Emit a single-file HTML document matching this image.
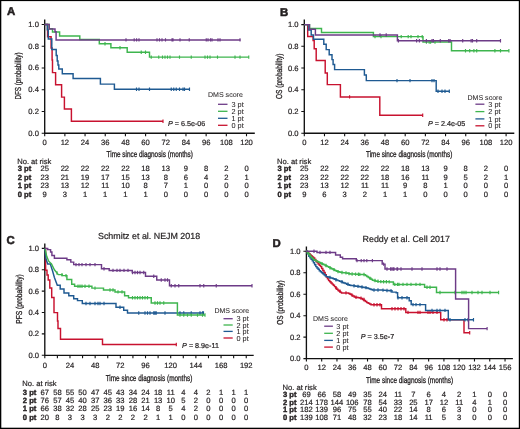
<!DOCTYPE html>
<html><head><meta charset="utf-8"><style>
html,body{margin:0;padding:0;background:#fff;}
body{width:520px;height:429px;overflow:hidden;}
svg{display:block;will-change:transform;}
text{-webkit-font-smoothing:antialiased;text-rendering:geometricPrecision;}
text{font-family:"Liberation Sans", sans-serif;fill:#231f20;stroke:#231f20;stroke-width:0.2px;}
text[font-weight=bold]{stroke-width:0.38px;}
text.cond{stroke-width:0.3px;}
text.tk{stroke-width:0.2px;}
text.lt{stroke-width:0.05px;}
text.let{stroke-width:0.55px;}
</style></head><body>
<svg width="520" height="429" viewBox="0 0 520 429">
<rect x="0" y="0" width="520" height="429" fill="#fff"/>
<text x="7.00" y="15.10" font-size="11.4" text-anchor="start" font-weight="bold" font-style="normal" class="let">A</text>
<path d="M44.70,19.50V133.20H254.80" fill="none" stroke="#111" stroke-width="1.35"/>
<text x="38.90" y="135.70" font-size="7.6" text-anchor="end" font-weight="normal" font-style="normal" class="tk">0.0</text>
<text x="38.90" y="113.96" font-size="7.6" text-anchor="end" font-weight="normal" font-style="normal" class="tk">0.2</text>
<text x="38.90" y="92.22" font-size="7.6" text-anchor="end" font-weight="normal" font-style="normal" class="tk">0.4</text>
<text x="38.90" y="70.48" font-size="7.6" text-anchor="end" font-weight="normal" font-style="normal" class="tk">0.6</text>
<text x="38.90" y="48.74" font-size="7.6" text-anchor="end" font-weight="normal" font-style="normal" class="tk">0.8</text>
<text x="38.90" y="27.00" font-size="7.6" text-anchor="end" font-weight="normal" font-style="normal" class="tk">1.0</text>
<text x="44.70" y="145.00" font-size="7.6" text-anchor="middle" font-weight="normal" font-style="normal" class="tk">0</text>
<text x="64.88" y="145.00" font-size="7.6" text-anchor="middle" font-weight="normal" font-style="normal" class="tk">12</text>
<text x="85.06" y="145.00" font-size="7.6" text-anchor="middle" font-weight="normal" font-style="normal" class="tk">24</text>
<text x="105.24" y="145.00" font-size="7.6" text-anchor="middle" font-weight="normal" font-style="normal" class="tk">36</text>
<text x="125.42" y="145.00" font-size="7.6" text-anchor="middle" font-weight="normal" font-style="normal" class="tk">48</text>
<text x="145.60" y="145.00" font-size="7.6" text-anchor="middle" font-weight="normal" font-style="normal" class="tk">60</text>
<text x="165.78" y="145.00" font-size="7.6" text-anchor="middle" font-weight="normal" font-style="normal" class="tk">72</text>
<text x="185.96" y="145.00" font-size="7.6" text-anchor="middle" font-weight="normal" font-style="normal" class="tk">84</text>
<text x="206.14" y="145.00" font-size="7.6" text-anchor="middle" font-weight="normal" font-style="normal" class="tk">96</text>
<text x="226.32" y="145.00" font-size="7.6" text-anchor="middle" font-weight="normal" font-style="normal" class="tk">108</text>
<text x="246.50" y="145.00" font-size="7.6" text-anchor="middle" font-weight="normal" font-style="normal" class="tk">120</text>
<path d="M41.70,133.20H44.70M41.70,111.46H44.70M41.70,89.72H44.70M41.70,67.98H44.70M41.70,46.24H44.70M41.70,24.50H44.70M44.70,133.20V136.20M64.88,133.20V136.20M85.06,133.20V136.20M105.24,133.20V136.20M125.42,133.20V136.20M145.60,133.20V136.20M165.78,133.20V136.20M185.96,133.20V136.20M206.14,133.20V136.20M226.32,133.20V136.20M246.50,133.20V136.20" fill="none" stroke="#111" stroke-width="1.1"/>
<text x="0" y="0" class="cond" font-size="8.6" text-anchor="middle" textLength="47" lengthAdjust="spacingAndGlyphs" transform="translate(21.30,76.00) rotate(-90)">DFS (probability)</text>
<text x="106.60" y="156.60" font-size="8.6" text-anchor="start" font-weight="normal" font-style="normal" textLength="86.3" lengthAdjust="spacingAndGlyphs" class="cond">Time since diagnosis (months)</text>
<path d="M44.70,24.50L47.60,24.50L47.60,36.80L51.10,36.80L51.10,48.00L52.10,48.00L52.10,60.00L52.50,60.00L52.50,72.60L55.60,72.60L55.60,84.80L61.60,84.80L61.60,97.10L64.40,97.10L64.40,109.00L71.40,109.00L71.40,121.20L163.00,121.20" fill="none" stroke="#c8122f" stroke-width="1.45" stroke-linejoin="miter" stroke-linecap="butt"/>
<path d="M163.00,119.50V122.90" fill="none" stroke="#c8122f" stroke-width="1.15"/>
<path d="M44.70,24.50L47.30,24.50L47.30,29.80L48.30,29.80L48.30,38.90L51.80,38.90L51.80,49.40L56.20,49.40L56.20,55.50L57.20,55.50L57.20,61.00L58.00,61.00L58.00,65.00L58.80,65.00L58.80,69.00L62.30,69.00L62.30,73.80L73.10,73.80L73.10,78.50L100.40,78.50L100.40,84.10L114.40,84.10L114.40,89.30L189.50,89.30" fill="none" stroke="#1f5a92" stroke-width="1.45" stroke-linejoin="miter" stroke-linecap="butt"/>
<path d="M136.50,87.60V91.00M139.00,87.60V91.00M149.50,87.60V91.00M171.25,87.60V91.00M173.75,87.60V91.00M176.25,87.60V91.00M179.50,87.60V91.00M183.00,87.60V91.00M184.50,87.60V91.00M189.50,87.60V91.00" fill="none" stroke="#1f5a92" stroke-width="1.15"/>
<path d="M44.70,24.50L49.20,24.50L49.20,28.80L52.50,28.80L52.50,32.10L59.60,32.10L59.60,35.90L79.80,35.90L79.80,39.50L99.30,39.50L99.30,43.80L110.90,43.80L110.90,47.80L127.20,47.80L127.20,52.20L149.50,52.20L149.50,57.10L248.75,57.10" fill="none" stroke="#3eb54e" stroke-width="1.45" stroke-linejoin="miter" stroke-linecap="butt"/>
<path d="M105.00,42.10V45.50M120.00,46.10V49.50M141.25,50.50V53.90M145.50,50.50V53.90M151.25,55.40V58.80M158.75,55.40V58.80M162.50,55.40V58.80M165.00,55.40V58.80M167.50,55.40V58.80M170.00,55.40V58.80M179.50,55.40V58.80M191.25,55.40V58.80M205.00,55.40V58.80M207.50,55.40V58.80M210.00,55.40V58.80M217.50,55.40V58.80M235.00,55.40V58.80M240.00,55.40V58.80M248.75,55.40V58.80" fill="none" stroke="#3eb54e" stroke-width="1.15"/>
<path d="M44.70,24.50L49.20,24.50L49.20,29.00L55.00,29.00L55.00,31.80L56.10,31.80L56.10,39.90L240.50,39.90" fill="none" stroke="#6d3b87" stroke-width="1.45" stroke-linejoin="miter" stroke-linecap="butt"/>
<path d="M126.00,38.20V41.60M134.20,38.20V41.60M136.60,38.20V41.60M139.00,38.20V41.60M157.00,38.20V41.60M159.50,38.20V41.60M162.00,38.20V41.60M165.50,38.20V41.60M172.00,38.20V41.60M173.00,38.20V41.60M180.00,38.20V41.60M189.25,38.20V41.60M206.25,38.20V41.60M208.00,38.20V41.60M210.50,38.20V41.60M212.00,38.20V41.60M218.00,38.20V41.60M220.00,38.20V41.60M240.00,38.20V41.60" fill="none" stroke="#6d3b87" stroke-width="1.15"/>
<text x="208.00" y="97.10" font-size="7.05" text-anchor="start" font-weight="normal" font-style="normal" class="lt">DMS score</text>
<path d="M218.00,104.30H227.50" stroke="#6d3b87" stroke-width="1.3"/>
<text x="231.50" y="106.90" font-size="7.3" text-anchor="start" font-weight="normal" font-style="normal" class="lt">3 pt</text>
<path d="M218.00,111.30H227.50" stroke="#3eb54e" stroke-width="1.3"/>
<text x="231.50" y="113.90" font-size="7.3" text-anchor="start" font-weight="normal" font-style="normal" class="lt">2 pt</text>
<path d="M218.00,118.30H227.50" stroke="#1f5a92" stroke-width="1.3"/>
<text x="231.50" y="120.90" font-size="7.3" text-anchor="start" font-weight="normal" font-style="normal" class="lt">1 pt</text>
<path d="M218.00,125.30H227.50" stroke="#c8122f" stroke-width="1.3"/>
<text x="231.50" y="127.90" font-size="7.3" text-anchor="start" font-weight="normal" font-style="normal" class="lt">0 pt</text>
<text x="168.00" y="126.00" font-size="7.2"><tspan font-style="italic">P</tspan> = 6.5e-06</text>
<text x="17.20" y="163.70" font-size="7.6" text-anchor="start" font-weight="normal" font-style="normal" >No. at risk</text>
<text x="17.70" y="171.00" font-size="7.6" text-anchor="start" font-weight="bold" font-style="normal" >3 pt</text>
<text x="44.70" y="171.00" font-size="7.6" text-anchor="middle" font-weight="normal" font-style="normal" >25</text>
<text x="64.88" y="171.00" font-size="7.6" text-anchor="middle" font-weight="normal" font-style="normal" >22</text>
<text x="85.06" y="171.00" font-size="7.6" text-anchor="middle" font-weight="normal" font-style="normal" >22</text>
<text x="105.24" y="171.00" font-size="7.6" text-anchor="middle" font-weight="normal" font-style="normal" >22</text>
<text x="125.42" y="171.00" font-size="7.6" text-anchor="middle" font-weight="normal" font-style="normal" >22</text>
<text x="145.60" y="171.00" font-size="7.6" text-anchor="middle" font-weight="normal" font-style="normal" >18</text>
<text x="165.78" y="171.00" font-size="7.6" text-anchor="middle" font-weight="normal" font-style="normal" >13</text>
<text x="185.96" y="171.00" font-size="7.6" text-anchor="middle" font-weight="normal" font-style="normal" >9</text>
<text x="206.14" y="171.00" font-size="7.6" text-anchor="middle" font-weight="normal" font-style="normal" >8</text>
<text x="226.32" y="171.00" font-size="7.6" text-anchor="middle" font-weight="normal" font-style="normal" >2</text>
<text x="246.50" y="171.00" font-size="7.6" text-anchor="middle" font-weight="normal" font-style="normal" >0</text>
<text x="17.70" y="179.80" font-size="7.6" text-anchor="start" font-weight="bold" font-style="normal" >2 pt</text>
<text x="44.70" y="179.80" font-size="7.6" text-anchor="middle" font-weight="normal" font-style="normal" >23</text>
<text x="64.88" y="179.80" font-size="7.6" text-anchor="middle" font-weight="normal" font-style="normal" >21</text>
<text x="85.06" y="179.80" font-size="7.6" text-anchor="middle" font-weight="normal" font-style="normal" >19</text>
<text x="105.24" y="179.80" font-size="7.6" text-anchor="middle" font-weight="normal" font-style="normal" >17</text>
<text x="125.42" y="179.80" font-size="7.6" text-anchor="middle" font-weight="normal" font-style="normal" >15</text>
<text x="145.60" y="179.80" font-size="7.6" text-anchor="middle" font-weight="normal" font-style="normal" >13</text>
<text x="165.78" y="179.80" font-size="7.6" text-anchor="middle" font-weight="normal" font-style="normal" >8</text>
<text x="185.96" y="179.80" font-size="7.6" text-anchor="middle" font-weight="normal" font-style="normal" >6</text>
<text x="206.14" y="179.80" font-size="7.6" text-anchor="middle" font-weight="normal" font-style="normal" >4</text>
<text x="226.32" y="179.80" font-size="7.6" text-anchor="middle" font-weight="normal" font-style="normal" >2</text>
<text x="246.50" y="179.80" font-size="7.6" text-anchor="middle" font-weight="normal" font-style="normal" >1</text>
<text x="17.70" y="188.40" font-size="7.6" text-anchor="start" font-weight="bold" font-style="normal" >1 pt</text>
<text x="44.70" y="188.40" font-size="7.6" text-anchor="middle" font-weight="normal" font-style="normal" >23</text>
<text x="64.88" y="188.40" font-size="7.6" text-anchor="middle" font-weight="normal" font-style="normal" >13</text>
<text x="85.06" y="188.40" font-size="7.6" text-anchor="middle" font-weight="normal" font-style="normal" >12</text>
<text x="105.24" y="188.40" font-size="7.6" text-anchor="middle" font-weight="normal" font-style="normal" >11</text>
<text x="125.42" y="188.40" font-size="7.6" text-anchor="middle" font-weight="normal" font-style="normal" >10</text>
<text x="145.60" y="188.40" font-size="7.6" text-anchor="middle" font-weight="normal" font-style="normal" >8</text>
<text x="165.78" y="188.40" font-size="7.6" text-anchor="middle" font-weight="normal" font-style="normal" >7</text>
<text x="185.96" y="188.40" font-size="7.6" text-anchor="middle" font-weight="normal" font-style="normal" >1</text>
<text x="206.14" y="188.40" font-size="7.6" text-anchor="middle" font-weight="normal" font-style="normal" >0</text>
<text x="226.32" y="188.40" font-size="7.6" text-anchor="middle" font-weight="normal" font-style="normal" >0</text>
<text x="246.50" y="188.40" font-size="7.6" text-anchor="middle" font-weight="normal" font-style="normal" >0</text>
<text x="17.70" y="197.20" font-size="7.6" text-anchor="start" font-weight="bold" font-style="normal" >0 pt</text>
<text x="44.70" y="197.20" font-size="7.6" text-anchor="middle" font-weight="normal" font-style="normal" >9</text>
<text x="64.88" y="197.20" font-size="7.6" text-anchor="middle" font-weight="normal" font-style="normal" >3</text>
<text x="85.06" y="197.20" font-size="7.6" text-anchor="middle" font-weight="normal" font-style="normal" >1</text>
<text x="105.24" y="197.20" font-size="7.6" text-anchor="middle" font-weight="normal" font-style="normal" >1</text>
<text x="125.42" y="197.20" font-size="7.6" text-anchor="middle" font-weight="normal" font-style="normal" >1</text>
<text x="145.60" y="197.20" font-size="7.6" text-anchor="middle" font-weight="normal" font-style="normal" >1</text>
<text x="165.78" y="197.20" font-size="7.6" text-anchor="middle" font-weight="normal" font-style="normal" >0</text>
<text x="185.96" y="197.20" font-size="7.6" text-anchor="middle" font-weight="normal" font-style="normal" >0</text>
<text x="206.14" y="197.20" font-size="7.6" text-anchor="middle" font-weight="normal" font-style="normal" >0</text>
<text x="226.32" y="197.20" font-size="7.6" text-anchor="middle" font-weight="normal" font-style="normal" >0</text>
<text x="246.50" y="197.20" font-size="7.6" text-anchor="middle" font-weight="normal" font-style="normal" >0</text>
<text x="280.10" y="15.60" font-size="11.4" text-anchor="start" font-weight="bold" font-style="normal" class="let">B</text>
<path d="M304.30,19.50V133.20H514.30" fill="none" stroke="#111" stroke-width="1.35"/>
<text x="298.50" y="135.70" font-size="7.6" text-anchor="end" font-weight="normal" font-style="normal" class="tk">0.0</text>
<text x="298.50" y="113.98" font-size="7.6" text-anchor="end" font-weight="normal" font-style="normal" class="tk">0.2</text>
<text x="298.50" y="92.26" font-size="7.6" text-anchor="end" font-weight="normal" font-style="normal" class="tk">0.4</text>
<text x="298.50" y="70.54" font-size="7.6" text-anchor="end" font-weight="normal" font-style="normal" class="tk">0.6</text>
<text x="298.50" y="48.82" font-size="7.6" text-anchor="end" font-weight="normal" font-style="normal" class="tk">0.8</text>
<text x="298.50" y="27.10" font-size="7.6" text-anchor="end" font-weight="normal" font-style="normal" class="tk">1.0</text>
<text x="304.30" y="145.00" font-size="7.6" text-anchor="middle" font-weight="normal" font-style="normal" class="tk">0</text>
<text x="324.48" y="145.00" font-size="7.6" text-anchor="middle" font-weight="normal" font-style="normal" class="tk">12</text>
<text x="344.66" y="145.00" font-size="7.6" text-anchor="middle" font-weight="normal" font-style="normal" class="tk">24</text>
<text x="364.84" y="145.00" font-size="7.6" text-anchor="middle" font-weight="normal" font-style="normal" class="tk">36</text>
<text x="385.02" y="145.00" font-size="7.6" text-anchor="middle" font-weight="normal" font-style="normal" class="tk">48</text>
<text x="405.20" y="145.00" font-size="7.6" text-anchor="middle" font-weight="normal" font-style="normal" class="tk">60</text>
<text x="425.38" y="145.00" font-size="7.6" text-anchor="middle" font-weight="normal" font-style="normal" class="tk">72</text>
<text x="445.56" y="145.00" font-size="7.6" text-anchor="middle" font-weight="normal" font-style="normal" class="tk">84</text>
<text x="465.74" y="145.00" font-size="7.6" text-anchor="middle" font-weight="normal" font-style="normal" class="tk">96</text>
<text x="485.92" y="145.00" font-size="7.6" text-anchor="middle" font-weight="normal" font-style="normal" class="tk">108</text>
<text x="506.10" y="145.00" font-size="7.6" text-anchor="middle" font-weight="normal" font-style="normal" class="tk">120</text>
<path d="M301.30,133.20H304.30M301.30,111.48H304.30M301.30,89.76H304.30M301.30,68.04H304.30M301.30,46.32H304.30M301.30,24.60H304.30M304.30,133.20V136.20M324.48,133.20V136.20M344.66,133.20V136.20M364.84,133.20V136.20M385.02,133.20V136.20M405.20,133.20V136.20M425.38,133.20V136.20M445.56,133.20V136.20M465.74,133.20V136.20M485.92,133.20V136.20M506.10,133.20V136.20" fill="none" stroke="#111" stroke-width="1.1"/>
<text x="0" y="0" class="cond" font-size="8.6" text-anchor="middle" textLength="45.5" lengthAdjust="spacingAndGlyphs" transform="translate(281.50,76.30) rotate(-90)">OS (probability)</text>
<text x="366.00" y="156.90" font-size="8.6" text-anchor="start" font-weight="normal" font-style="normal" textLength="86.3" lengthAdjust="spacingAndGlyphs" class="cond">Time since diagnosis (months)</text>
<path d="M304.30,24.60L307.70,24.60L307.70,36.50L313.10,36.50L313.10,40.40L314.20,40.40L314.20,48.80L316.20,48.80L316.20,60.40L325.20,60.40L325.20,72.90L327.30,72.90L327.30,84.60L340.40,84.60L340.40,96.90L379.80,96.90L379.80,115.20L422.70,115.20" fill="none" stroke="#c8122f" stroke-width="1.45" stroke-linejoin="miter" stroke-linecap="butt"/>
<path d="M349.60,95.20V98.60M422.70,113.50V116.90" fill="none" stroke="#c8122f" stroke-width="1.15"/>
<path d="M304.30,24.60L308.50,24.60L308.50,29.90L311.20,29.90L311.20,35.00L313.50,35.00L313.50,39.30L323.80,39.30L323.80,44.20L326.20,44.20L326.20,49.60L329.20,49.60L329.20,54.70L332.00,54.70L332.00,59.60L333.10,59.60L333.10,64.50L334.60,64.50L334.60,69.60L364.40,69.60L364.40,75.00L366.30,75.00L366.30,80.60L436.20,80.60L436.20,91.30L449.30,91.30" fill="none" stroke="#1f5a92" stroke-width="1.45" stroke-linejoin="miter" stroke-linecap="butt"/>
<path d="M397.00,78.90V82.30M410.00,78.90V82.30M432.00,78.90V82.30M434.00,78.90V82.30M438.00,89.60V93.00M442.00,89.60V93.00M445.00,89.60V93.00M449.30,89.60V93.00" fill="none" stroke="#1f5a92" stroke-width="1.15"/>
<path d="M304.30,24.60L309.50,24.60L309.50,28.50L321.50,28.50L321.50,32.40L373.40,32.40L373.40,36.60L423.00,36.60L423.00,42.00L451.50,42.00L451.50,50.80L508.90,50.80" fill="none" stroke="#3eb54e" stroke-width="1.45" stroke-linejoin="miter" stroke-linecap="butt"/>
<path d="M375.00,34.90V38.30M381.00,34.90V38.30M401.20,34.90V38.30M408.20,34.90V38.30M411.00,34.90V38.30M418.00,34.90V38.30M422.20,34.90V38.30M426.40,40.30V43.70M429.20,40.30V43.70M430.60,40.30V43.70M435.00,40.30V43.70M465.50,49.10V52.50M469.70,49.10V52.50M473.90,49.10V52.50M476.70,49.10V52.50M494.90,49.10V52.50M500.50,49.10V52.50M508.90,49.10V52.50" fill="none" stroke="#3eb54e" stroke-width="1.15"/>
<path d="M304.30,24.60L309.50,24.60L309.50,29.20L315.40,29.20L315.40,35.00L397.40,35.00L397.40,40.70L500.50,40.70" fill="none" stroke="#6d3b87" stroke-width="1.45" stroke-linejoin="miter" stroke-linecap="butt"/>
<path d="M380.00,33.30V36.70M386.20,33.30V36.70M398.40,39.00V42.40M416.60,39.00V42.40M419.40,39.00V42.40M426.40,39.00V42.40M432.00,39.00V42.40M433.40,39.00V42.40M440.30,39.00V42.40M448.70,39.00V42.40M450.10,39.00V42.40M462.70,39.00V42.40M471.10,39.00V42.40M472.50,39.00V42.40M476.70,39.00V42.40M500.50,39.00V42.40" fill="none" stroke="#6d3b87" stroke-width="1.15"/>
<text x="467.50" y="100.00" font-size="7.05" text-anchor="start" font-weight="normal" font-style="normal" class="lt">DMS score</text>
<path d="M475.40,104.20H484.40" stroke="#6d3b87" stroke-width="1.3"/>
<text x="488.30" y="106.80" font-size="7.3" text-anchor="start" font-weight="normal" font-style="normal" class="lt">3 pt</text>
<path d="M475.40,111.60H484.40" stroke="#3eb54e" stroke-width="1.3"/>
<text x="488.30" y="114.20" font-size="7.3" text-anchor="start" font-weight="normal" font-style="normal" class="lt">2 pt</text>
<path d="M475.40,118.90H484.40" stroke="#1f5a92" stroke-width="1.3"/>
<text x="488.30" y="121.50" font-size="7.3" text-anchor="start" font-weight="normal" font-style="normal" class="lt">1 pt</text>
<path d="M475.40,125.80H484.40" stroke="#c8122f" stroke-width="1.3"/>
<text x="488.30" y="128.40" font-size="7.3" text-anchor="start" font-weight="normal" font-style="normal" class="lt">0 pt</text>
<text x="428.00" y="126.00" font-size="7.2"><tspan font-style="italic">P</tspan> = 2.4e-05</text>
<text x="277.00" y="163.70" font-size="7.6" text-anchor="start" font-weight="normal" font-style="normal" >No. at risk</text>
<text x="277.50" y="171.00" font-size="7.6" text-anchor="start" font-weight="bold" font-style="normal" >3 pt</text>
<text x="304.30" y="171.00" font-size="7.6" text-anchor="middle" font-weight="normal" font-style="normal" >25</text>
<text x="324.48" y="171.00" font-size="7.6" text-anchor="middle" font-weight="normal" font-style="normal" >22</text>
<text x="344.66" y="171.00" font-size="7.6" text-anchor="middle" font-weight="normal" font-style="normal" >22</text>
<text x="364.84" y="171.00" font-size="7.6" text-anchor="middle" font-weight="normal" font-style="normal" >22</text>
<text x="385.02" y="171.00" font-size="7.6" text-anchor="middle" font-weight="normal" font-style="normal" >22</text>
<text x="405.20" y="171.00" font-size="7.6" text-anchor="middle" font-weight="normal" font-style="normal" >18</text>
<text x="425.38" y="171.00" font-size="7.6" text-anchor="middle" font-weight="normal" font-style="normal" >13</text>
<text x="445.56" y="171.00" font-size="7.6" text-anchor="middle" font-weight="normal" font-style="normal" >9</text>
<text x="465.74" y="171.00" font-size="7.6" text-anchor="middle" font-weight="normal" font-style="normal" >8</text>
<text x="485.92" y="171.00" font-size="7.6" text-anchor="middle" font-weight="normal" font-style="normal" >2</text>
<text x="506.10" y="171.00" font-size="7.6" text-anchor="middle" font-weight="normal" font-style="normal" >0</text>
<text x="277.50" y="179.80" font-size="7.6" text-anchor="start" font-weight="bold" font-style="normal" >2 pt</text>
<text x="304.30" y="179.80" font-size="7.6" text-anchor="middle" font-weight="normal" font-style="normal" >23</text>
<text x="324.48" y="179.80" font-size="7.6" text-anchor="middle" font-weight="normal" font-style="normal" >22</text>
<text x="344.66" y="179.80" font-size="7.6" text-anchor="middle" font-weight="normal" font-style="normal" >22</text>
<text x="364.84" y="179.80" font-size="7.6" text-anchor="middle" font-weight="normal" font-style="normal" >22</text>
<text x="385.02" y="179.80" font-size="7.6" text-anchor="middle" font-weight="normal" font-style="normal" >18</text>
<text x="405.20" y="179.80" font-size="7.6" text-anchor="middle" font-weight="normal" font-style="normal" >16</text>
<text x="425.38" y="179.80" font-size="7.6" text-anchor="middle" font-weight="normal" font-style="normal" >11</text>
<text x="445.56" y="179.80" font-size="7.6" text-anchor="middle" font-weight="normal" font-style="normal" >9</text>
<text x="465.74" y="179.80" font-size="7.6" text-anchor="middle" font-weight="normal" font-style="normal" >5</text>
<text x="485.92" y="179.80" font-size="7.6" text-anchor="middle" font-weight="normal" font-style="normal" >2</text>
<text x="506.10" y="179.80" font-size="7.6" text-anchor="middle" font-weight="normal" font-style="normal" >1</text>
<text x="277.50" y="188.40" font-size="7.6" text-anchor="start" font-weight="bold" font-style="normal" >1 pt</text>
<text x="304.30" y="188.40" font-size="7.6" text-anchor="middle" font-weight="normal" font-style="normal" >23</text>
<text x="324.48" y="188.40" font-size="7.6" text-anchor="middle" font-weight="normal" font-style="normal" >13</text>
<text x="344.66" y="188.40" font-size="7.6" text-anchor="middle" font-weight="normal" font-style="normal" >12</text>
<text x="364.84" y="188.40" font-size="7.6" text-anchor="middle" font-weight="normal" font-style="normal" >11</text>
<text x="385.02" y="188.40" font-size="7.6" text-anchor="middle" font-weight="normal" font-style="normal" >11</text>
<text x="405.20" y="188.40" font-size="7.6" text-anchor="middle" font-weight="normal" font-style="normal" >9</text>
<text x="425.38" y="188.40" font-size="7.6" text-anchor="middle" font-weight="normal" font-style="normal" >8</text>
<text x="445.56" y="188.40" font-size="7.6" text-anchor="middle" font-weight="normal" font-style="normal" >1</text>
<text x="465.74" y="188.40" font-size="7.6" text-anchor="middle" font-weight="normal" font-style="normal" >0</text>
<text x="485.92" y="188.40" font-size="7.6" text-anchor="middle" font-weight="normal" font-style="normal" >0</text>
<text x="506.10" y="188.40" font-size="7.6" text-anchor="middle" font-weight="normal" font-style="normal" >0</text>
<text x="277.50" y="197.20" font-size="7.6" text-anchor="start" font-weight="bold" font-style="normal" >0 pt</text>
<text x="304.30" y="197.20" font-size="7.6" text-anchor="middle" font-weight="normal" font-style="normal" >9</text>
<text x="324.48" y="197.20" font-size="7.6" text-anchor="middle" font-weight="normal" font-style="normal" >6</text>
<text x="344.66" y="197.20" font-size="7.6" text-anchor="middle" font-weight="normal" font-style="normal" >3</text>
<text x="364.84" y="197.20" font-size="7.6" text-anchor="middle" font-weight="normal" font-style="normal" >2</text>
<text x="385.02" y="197.20" font-size="7.6" text-anchor="middle" font-weight="normal" font-style="normal" >1</text>
<text x="405.20" y="197.20" font-size="7.6" text-anchor="middle" font-weight="normal" font-style="normal" >1</text>
<text x="425.38" y="197.20" font-size="7.6" text-anchor="middle" font-weight="normal" font-style="normal" >0</text>
<text x="445.56" y="197.20" font-size="7.6" text-anchor="middle" font-weight="normal" font-style="normal" >0</text>
<text x="465.74" y="197.20" font-size="7.6" text-anchor="middle" font-weight="normal" font-style="normal" >0</text>
<text x="485.92" y="197.20" font-size="7.6" text-anchor="middle" font-weight="normal" font-style="normal" >0</text>
<text x="506.10" y="197.20" font-size="7.6" text-anchor="middle" font-weight="normal" font-style="normal" >0</text>
<text x="6.60" y="243.90" font-size="11.4" text-anchor="start" font-weight="bold" font-style="normal" class="let">C</text>
<path d="M44.80,243.50V355.30H253.70" fill="none" stroke="#111" stroke-width="1.35"/>
<text x="39.00" y="357.80" font-size="7.6" text-anchor="end" font-weight="normal" font-style="normal" class="tk">0.0</text>
<text x="39.00" y="336.42" font-size="7.6" text-anchor="end" font-weight="normal" font-style="normal" class="tk">0.2</text>
<text x="39.00" y="315.04" font-size="7.6" text-anchor="end" font-weight="normal" font-style="normal" class="tk">0.4</text>
<text x="39.00" y="293.66" font-size="7.6" text-anchor="end" font-weight="normal" font-style="normal" class="tk">0.6</text>
<text x="39.00" y="272.28" font-size="7.6" text-anchor="end" font-weight="normal" font-style="normal" class="tk">0.8</text>
<text x="39.00" y="250.90" font-size="7.6" text-anchor="end" font-weight="normal" font-style="normal" class="tk">1.0</text>
<text x="44.80" y="367.90" font-size="7.6" text-anchor="middle" font-weight="normal" font-style="normal" class="tk">0</text>
<text x="69.98" y="367.90" font-size="7.6" text-anchor="middle" font-weight="normal" font-style="normal" class="tk">24</text>
<text x="95.16" y="367.90" font-size="7.6" text-anchor="middle" font-weight="normal" font-style="normal" class="tk">48</text>
<text x="120.34" y="367.90" font-size="7.6" text-anchor="middle" font-weight="normal" font-style="normal" class="tk">72</text>
<text x="145.52" y="367.90" font-size="7.6" text-anchor="middle" font-weight="normal" font-style="normal" class="tk">96</text>
<text x="170.70" y="367.90" font-size="7.6" text-anchor="middle" font-weight="normal" font-style="normal" class="tk">120</text>
<text x="195.88" y="367.90" font-size="7.6" text-anchor="middle" font-weight="normal" font-style="normal" class="tk">144</text>
<text x="221.06" y="367.90" font-size="7.6" text-anchor="middle" font-weight="normal" font-style="normal" class="tk">168</text>
<text x="246.24" y="367.90" font-size="7.6" text-anchor="middle" font-weight="normal" font-style="normal" class="tk">192</text>
<path d="M41.80,355.30H44.80M41.80,333.92H44.80M41.80,312.54H44.80M41.80,291.16H44.80M41.80,269.78H44.80M41.80,248.40H44.80M44.80,355.30V358.30M57.39,355.30V358.30M69.98,355.30V358.30M82.57,355.30V358.30M95.16,355.30V358.30M107.75,355.30V358.30M120.34,355.30V358.30M132.93,355.30V358.30M145.52,355.30V358.30M158.11,355.30V358.30M170.70,355.30V358.30M183.29,355.30V358.30M195.88,355.30V358.30M208.47,355.30V358.30M221.06,355.30V358.30M233.65,355.30V358.30M246.24,355.30V358.30" fill="none" stroke="#111" stroke-width="1.1"/>
<text x="0" y="0" class="cond" font-size="8.6" text-anchor="middle" textLength="49.5" lengthAdjust="spacingAndGlyphs" transform="translate(21.50,299.00) rotate(-90)">PFS (probability)</text>
<text x="105.70" y="380.60" font-size="8.6" text-anchor="start" font-weight="normal" font-style="normal" textLength="86.6" lengthAdjust="spacingAndGlyphs" class="cond">Time since diagnosis (months)</text>
<path d="M45.00,248.40L45.60,248.40L45.60,270.20L47.00,270.20L47.00,275.00L48.20,275.00L48.20,280.00L49.80,280.00L49.80,288.00L51.70,288.00L51.70,297.40L54.00,297.40L54.00,312.60L57.50,312.60L57.50,321.00L58.00,321.00L58.00,328.50L60.50,328.50L60.50,339.20L102.50,339.20L102.50,344.50L176.30,344.50" fill="none" stroke="#c8122f" stroke-width="1.45" stroke-linejoin="miter" stroke-linecap="butt"/>
<path d="M176.30,342.80V346.20" fill="none" stroke="#c8122f" stroke-width="1.15"/>
<path d="M45.00,248.40L45.80,258.30L47.70,264.00L50.60,264.00L50.60,265.00L52.50,270.80L54.40,277.50L57.30,285.20L60.20,285.20L60.20,289.00L64.00,289.00L64.00,292.90L68.80,292.90L68.80,295.80L73.70,295.80L73.70,298.70L77.50,298.70L77.50,300.60L82.30,300.60L82.30,303.50L116.00,303.50L116.00,307.30L123.70,307.30L123.70,310.20L127.50,310.20L127.50,313.00L203.50,313.00" fill="none" stroke="#1f5a92" stroke-width="1.45" stroke-linejoin="miter" stroke-linecap="butt"/>
<path d="M86.00,301.80V305.20M90.00,301.80V305.20M95.00,301.80V305.20M98.00,301.80V305.20M100.00,301.80V305.20M104.00,301.80V305.20M120.00,305.60V309.00M138.75,311.30V314.70M145.00,311.30V314.70M147.50,311.30V314.70M150.00,311.30V314.70M153.75,311.30V314.70M155.00,311.30V314.70M156.25,311.30V314.70M165.00,311.30V314.70M180.00,311.30V314.70M183.75,311.30V314.70M191.25,311.30V314.70M200.00,311.30V314.70M202.50,311.30V314.70M203.50,311.30V314.70" fill="none" stroke="#1f5a92" stroke-width="1.15"/>
<path d="M45.00,248.40L46.70,256.30L48.70,261.20L51.50,264.00L54.40,269.80L58.30,274.60L62.10,274.60L62.10,275.60L66.90,275.60L66.90,279.40L71.70,279.40L71.70,284.20L74.60,284.20L74.60,286.20L91.90,286.20L91.90,288.10L103.50,288.10L103.50,290.00L115.00,290.00L115.00,291.90L124.60,291.90L124.60,295.80L128.50,295.80L128.50,297.70L151.25,297.70L151.25,303.00L177.40,303.00L177.40,315.00L205.00,315.00" fill="none" stroke="#3eb54e" stroke-width="1.45" stroke-linejoin="miter" stroke-linecap="butt"/>
<path d="M57.00,271.30V274.70M62.00,272.90V276.30M66.00,273.90V277.30M78.00,284.50V287.90M80.00,284.50V287.90M82.00,284.50V287.90M85.00,284.50V287.90M89.00,284.50V287.90M95.00,286.40V289.80M110.00,288.30V291.70M113.00,288.30V291.70M118.00,290.20V293.60M122.00,290.20V293.60M132.50,296.00V299.40M135.00,296.00V299.40M137.50,296.00V299.40M140.00,296.00V299.40M142.50,296.00V299.40M145.00,296.00V299.40M147.50,296.00V299.40M155.00,301.30V304.70M157.50,301.30V304.70M160.00,301.30V304.70M163.75,301.30V304.70M180.00,313.30V316.70M183.75,313.30V316.70M187.50,313.30V316.70M191.25,313.30V316.70M197.50,313.30V316.70M202.50,313.30V316.70M205.00,313.30V316.70" fill="none" stroke="#3eb54e" stroke-width="1.15"/>
<path d="M45.00,248.40L47.70,248.40L47.70,249.60L50.60,249.60L50.60,251.90L51.90,251.90L51.90,255.40L54.40,255.40L54.40,258.30L66.90,258.30L66.90,259.80L70.80,259.80L70.80,262.10L73.70,262.10L73.70,264.60L101.50,264.60L101.50,268.80L109.20,268.80L109.20,270.40L132.30,270.40L132.30,272.50L145.50,272.50L145.50,276.25L156.75,276.25L156.75,280.00L169.50,280.00L169.50,285.75L252.00,285.75" fill="none" stroke="#6d3b87" stroke-width="1.45" stroke-linejoin="miter" stroke-linecap="butt"/>
<path d="M76.00,262.90V266.30M79.00,262.90V266.30M82.00,262.90V266.30M86.00,262.90V266.30M90.00,262.90V266.30M95.00,262.90V266.30M104.00,267.10V270.50M113.00,268.70V272.10M117.00,268.70V272.10M120.00,268.70V272.10M124.00,268.70V272.10M128.00,268.70V272.10M132.50,270.80V274.20M135.00,270.80V274.20M137.50,270.80V274.20M140.00,270.80V274.20M143.75,270.80V274.20M153.75,274.55V277.95M161.25,278.30V281.70M165.00,278.30V281.70M167.50,278.30V281.70M171.25,284.05V287.45M175.00,284.05V287.45M178.75,284.05V287.45M200.00,284.05V287.45M203.75,284.05V287.45M216.25,284.05V287.45M252.00,284.05V287.45" fill="none" stroke="#6d3b87" stroke-width="1.15"/>
<text x="214.40" y="312.50" font-size="7.05" text-anchor="start" font-weight="normal" font-style="normal" class="lt">DMS score</text>
<path d="M223.50,318.70H232.70" stroke="#6d3b87" stroke-width="1.3"/>
<text x="236.50" y="321.30" font-size="7.3" text-anchor="start" font-weight="normal" font-style="normal" class="lt">3 pt</text>
<path d="M223.50,325.00H232.70" stroke="#3eb54e" stroke-width="1.3"/>
<text x="236.50" y="327.60" font-size="7.3" text-anchor="start" font-weight="normal" font-style="normal" class="lt">2 pt</text>
<path d="M223.50,331.40H232.70" stroke="#1f5a92" stroke-width="1.3"/>
<text x="236.50" y="334.00" font-size="7.3" text-anchor="start" font-weight="normal" font-style="normal" class="lt">1 pt</text>
<path d="M223.50,338.00H232.70" stroke="#c8122f" stroke-width="1.3"/>
<text x="236.50" y="340.60" font-size="7.3" text-anchor="start" font-weight="normal" font-style="normal" class="lt">0 pt</text>
<text x="182.10" y="348.30" font-size="7.2"><tspan font-style="italic">P</tspan> = 8.9e-11</text>
<text x="98.00" y="239.20" font-size="8.9" text-anchor="start" font-weight="normal" font-style="normal" >Schmitz et al. NEJM 2018</text>
<text x="22.30" y="386.30" font-size="7.6" text-anchor="start" font-weight="normal" font-style="normal" >No. at risk</text>
<text x="22.80" y="394.60" font-size="7.6" text-anchor="start" font-weight="bold" font-style="normal" >3 pt</text>
<text x="44.80" y="394.60" font-size="7.6" text-anchor="middle" font-weight="normal" font-style="normal" >67</text>
<text x="57.39" y="394.60" font-size="7.6" text-anchor="middle" font-weight="normal" font-style="normal" >58</text>
<text x="69.98" y="394.60" font-size="7.6" text-anchor="middle" font-weight="normal" font-style="normal" >55</text>
<text x="82.57" y="394.60" font-size="7.6" text-anchor="middle" font-weight="normal" font-style="normal" >50</text>
<text x="95.16" y="394.60" font-size="7.6" text-anchor="middle" font-weight="normal" font-style="normal" >47</text>
<text x="107.75" y="394.60" font-size="7.6" text-anchor="middle" font-weight="normal" font-style="normal" >45</text>
<text x="120.34" y="394.60" font-size="7.6" text-anchor="middle" font-weight="normal" font-style="normal" >43</text>
<text x="132.93" y="394.60" font-size="7.6" text-anchor="middle" font-weight="normal" font-style="normal" >34</text>
<text x="145.52" y="394.60" font-size="7.6" text-anchor="middle" font-weight="normal" font-style="normal" >24</text>
<text x="158.11" y="394.60" font-size="7.6" text-anchor="middle" font-weight="normal" font-style="normal" >18</text>
<text x="170.70" y="394.60" font-size="7.6" text-anchor="middle" font-weight="normal" font-style="normal" >11</text>
<text x="183.29" y="394.60" font-size="7.6" text-anchor="middle" font-weight="normal" font-style="normal" >4</text>
<text x="195.88" y="394.60" font-size="7.6" text-anchor="middle" font-weight="normal" font-style="normal" >4</text>
<text x="208.47" y="394.60" font-size="7.6" text-anchor="middle" font-weight="normal" font-style="normal" >2</text>
<text x="221.06" y="394.60" font-size="7.6" text-anchor="middle" font-weight="normal" font-style="normal" >1</text>
<text x="233.65" y="394.60" font-size="7.6" text-anchor="middle" font-weight="normal" font-style="normal" >1</text>
<text x="246.24" y="394.60" font-size="7.6" text-anchor="middle" font-weight="normal" font-style="normal" >1</text>
<text x="22.80" y="403.00" font-size="7.6" text-anchor="start" font-weight="bold" font-style="normal" >2 pt</text>
<text x="44.80" y="403.00" font-size="7.6" text-anchor="middle" font-weight="normal" font-style="normal" >76</text>
<text x="57.39" y="403.00" font-size="7.6" text-anchor="middle" font-weight="normal" font-style="normal" >57</text>
<text x="69.98" y="403.00" font-size="7.6" text-anchor="middle" font-weight="normal" font-style="normal" >45</text>
<text x="82.57" y="403.00" font-size="7.6" text-anchor="middle" font-weight="normal" font-style="normal" >40</text>
<text x="95.16" y="403.00" font-size="7.6" text-anchor="middle" font-weight="normal" font-style="normal" >37</text>
<text x="107.75" y="403.00" font-size="7.6" text-anchor="middle" font-weight="normal" font-style="normal" >36</text>
<text x="120.34" y="403.00" font-size="7.6" text-anchor="middle" font-weight="normal" font-style="normal" >33</text>
<text x="132.93" y="403.00" font-size="7.6" text-anchor="middle" font-weight="normal" font-style="normal" >28</text>
<text x="145.52" y="403.00" font-size="7.6" text-anchor="middle" font-weight="normal" font-style="normal" >21</text>
<text x="158.11" y="403.00" font-size="7.6" text-anchor="middle" font-weight="normal" font-style="normal" >13</text>
<text x="170.70" y="403.00" font-size="7.6" text-anchor="middle" font-weight="normal" font-style="normal" >10</text>
<text x="183.29" y="403.00" font-size="7.6" text-anchor="middle" font-weight="normal" font-style="normal" >5</text>
<text x="195.88" y="403.00" font-size="7.6" text-anchor="middle" font-weight="normal" font-style="normal" >2</text>
<text x="208.47" y="403.00" font-size="7.6" text-anchor="middle" font-weight="normal" font-style="normal" >0</text>
<text x="221.06" y="403.00" font-size="7.6" text-anchor="middle" font-weight="normal" font-style="normal" >0</text>
<text x="233.65" y="403.00" font-size="7.6" text-anchor="middle" font-weight="normal" font-style="normal" >0</text>
<text x="246.24" y="403.00" font-size="7.6" text-anchor="middle" font-weight="normal" font-style="normal" >0</text>
<text x="22.80" y="411.30" font-size="7.6" text-anchor="start" font-weight="bold" font-style="normal" >1 pt</text>
<text x="44.80" y="411.30" font-size="7.6" text-anchor="middle" font-weight="normal" font-style="normal" >66</text>
<text x="57.39" y="411.30" font-size="7.6" text-anchor="middle" font-weight="normal" font-style="normal" >38</text>
<text x="69.98" y="411.30" font-size="7.6" text-anchor="middle" font-weight="normal" font-style="normal" >32</text>
<text x="82.57" y="411.30" font-size="7.6" text-anchor="middle" font-weight="normal" font-style="normal" >28</text>
<text x="95.16" y="411.30" font-size="7.6" text-anchor="middle" font-weight="normal" font-style="normal" >25</text>
<text x="107.75" y="411.30" font-size="7.6" text-anchor="middle" font-weight="normal" font-style="normal" >23</text>
<text x="120.34" y="411.30" font-size="7.6" text-anchor="middle" font-weight="normal" font-style="normal" >19</text>
<text x="132.93" y="411.30" font-size="7.6" text-anchor="middle" font-weight="normal" font-style="normal" >16</text>
<text x="145.52" y="411.30" font-size="7.6" text-anchor="middle" font-weight="normal" font-style="normal" >14</text>
<text x="158.11" y="411.30" font-size="7.6" text-anchor="middle" font-weight="normal" font-style="normal" >8</text>
<text x="170.70" y="411.30" font-size="7.6" text-anchor="middle" font-weight="normal" font-style="normal" >5</text>
<text x="183.29" y="411.30" font-size="7.6" text-anchor="middle" font-weight="normal" font-style="normal" >4</text>
<text x="195.88" y="411.30" font-size="7.6" text-anchor="middle" font-weight="normal" font-style="normal" >2</text>
<text x="208.47" y="411.30" font-size="7.6" text-anchor="middle" font-weight="normal" font-style="normal" >0</text>
<text x="221.06" y="411.30" font-size="7.6" text-anchor="middle" font-weight="normal" font-style="normal" >0</text>
<text x="233.65" y="411.30" font-size="7.6" text-anchor="middle" font-weight="normal" font-style="normal" >0</text>
<text x="246.24" y="411.30" font-size="7.6" text-anchor="middle" font-weight="normal" font-style="normal" >0</text>
<text x="22.80" y="419.90" font-size="7.6" text-anchor="start" font-weight="bold" font-style="normal" >0 pt</text>
<text x="44.80" y="419.90" font-size="7.6" text-anchor="middle" font-weight="normal" font-style="normal" >20</text>
<text x="57.39" y="419.90" font-size="7.6" text-anchor="middle" font-weight="normal" font-style="normal" >8</text>
<text x="69.98" y="419.90" font-size="7.6" text-anchor="middle" font-weight="normal" font-style="normal" >3</text>
<text x="82.57" y="419.90" font-size="7.6" text-anchor="middle" font-weight="normal" font-style="normal" >3</text>
<text x="95.16" y="419.90" font-size="7.6" text-anchor="middle" font-weight="normal" font-style="normal" >3</text>
<text x="107.75" y="419.90" font-size="7.6" text-anchor="middle" font-weight="normal" font-style="normal" >2</text>
<text x="120.34" y="419.90" font-size="7.6" text-anchor="middle" font-weight="normal" font-style="normal" >2</text>
<text x="132.93" y="419.90" font-size="7.6" text-anchor="middle" font-weight="normal" font-style="normal" >2</text>
<text x="145.52" y="419.90" font-size="7.6" text-anchor="middle" font-weight="normal" font-style="normal" >2</text>
<text x="158.11" y="419.90" font-size="7.6" text-anchor="middle" font-weight="normal" font-style="normal" >1</text>
<text x="170.70" y="419.90" font-size="7.6" text-anchor="middle" font-weight="normal" font-style="normal" >1</text>
<text x="183.29" y="419.90" font-size="7.6" text-anchor="middle" font-weight="normal" font-style="normal" >0</text>
<text x="195.88" y="419.90" font-size="7.6" text-anchor="middle" font-weight="normal" font-style="normal" >0</text>
<text x="208.47" y="419.90" font-size="7.6" text-anchor="middle" font-weight="normal" font-style="normal" >0</text>
<text x="221.06" y="419.90" font-size="7.6" text-anchor="middle" font-weight="normal" font-style="normal" >0</text>
<text x="233.65" y="419.90" font-size="7.6" text-anchor="middle" font-weight="normal" font-style="normal" >0</text>
<text x="246.24" y="419.90" font-size="7.6" text-anchor="middle" font-weight="normal" font-style="normal" >0</text>
<text x="272.60" y="247.00" font-size="11.4" text-anchor="start" font-weight="bold" font-style="normal" class="let">D</text>
<path d="M306.40,246.50V358.60H512.90" fill="none" stroke="#111" stroke-width="1.35"/>
<text x="300.60" y="361.10" font-size="7.6" text-anchor="end" font-weight="normal" font-style="normal" class="tk">0.0</text>
<text x="300.60" y="339.64" font-size="7.6" text-anchor="end" font-weight="normal" font-style="normal" class="tk">0.2</text>
<text x="300.60" y="318.18" font-size="7.6" text-anchor="end" font-weight="normal" font-style="normal" class="tk">0.4</text>
<text x="300.60" y="296.72" font-size="7.6" text-anchor="end" font-weight="normal" font-style="normal" class="tk">0.6</text>
<text x="300.60" y="275.26" font-size="7.6" text-anchor="end" font-weight="normal" font-style="normal" class="tk">0.8</text>
<text x="300.60" y="253.80" font-size="7.6" text-anchor="end" font-weight="normal" font-style="normal" class="tk">1.0</text>
<text x="306.40" y="370.00" font-size="7.6" text-anchor="middle" font-weight="normal" font-style="normal" class="tk">0</text>
<text x="321.68" y="370.00" font-size="7.6" text-anchor="middle" font-weight="normal" font-style="normal" class="tk">12</text>
<text x="336.96" y="370.00" font-size="7.6" text-anchor="middle" font-weight="normal" font-style="normal" class="tk">24</text>
<text x="352.24" y="370.00" font-size="7.6" text-anchor="middle" font-weight="normal" font-style="normal" class="tk">36</text>
<text x="367.52" y="370.00" font-size="7.6" text-anchor="middle" font-weight="normal" font-style="normal" class="tk">48</text>
<text x="382.80" y="370.00" font-size="7.6" text-anchor="middle" font-weight="normal" font-style="normal" class="tk">60</text>
<text x="398.08" y="370.00" font-size="7.6" text-anchor="middle" font-weight="normal" font-style="normal" class="tk">72</text>
<text x="413.36" y="370.00" font-size="7.6" text-anchor="middle" font-weight="normal" font-style="normal" class="tk">84</text>
<text x="428.64" y="370.00" font-size="7.6" text-anchor="middle" font-weight="normal" font-style="normal" class="tk">96</text>
<text x="443.92" y="370.00" font-size="7.6" text-anchor="middle" font-weight="normal" font-style="normal" class="tk">108</text>
<text x="459.20" y="370.00" font-size="7.6" text-anchor="middle" font-weight="normal" font-style="normal" class="tk">120</text>
<text x="474.48" y="370.00" font-size="7.6" text-anchor="middle" font-weight="normal" font-style="normal" class="tk">132</text>
<text x="489.76" y="370.00" font-size="7.6" text-anchor="middle" font-weight="normal" font-style="normal" class="tk">144</text>
<text x="505.04" y="370.00" font-size="7.6" text-anchor="middle" font-weight="normal" font-style="normal" class="tk">156</text>
<path d="M303.40,358.60H306.40M303.40,337.14H306.40M303.40,315.68H306.40M303.40,294.22H306.40M303.40,272.76H306.40M303.40,251.30H306.40M306.40,358.60V361.60M321.68,358.60V361.60M336.96,358.60V361.60M352.24,358.60V361.60M367.52,358.60V361.60M382.80,358.60V361.60M398.08,358.60V361.60M413.36,358.60V361.60M428.64,358.60V361.60M443.92,358.60V361.60M459.20,358.60V361.60M474.48,358.60V361.60M489.76,358.60V361.60M505.04,358.60V361.60" fill="none" stroke="#111" stroke-width="1.1"/>
<text x="0" y="0" class="cond" font-size="8.6" text-anchor="middle" textLength="44.2" lengthAdjust="spacingAndGlyphs" transform="translate(283.40,302.60) rotate(-90)">OS (probability)</text>
<text x="366.10" y="383.00" font-size="8.6" text-anchor="start" font-weight="normal" font-style="normal" textLength="87.0" lengthAdjust="spacingAndGlyphs" class="cond">Time since diagnosis (months)</text>
<path d="M306.00,251.30L307.33,251.30L307.33,252.53L308.67,252.53L308.67,253.77L310.00,253.77L310.00,255.00L311.17,255.00L311.17,255.97L312.33,255.97L312.33,256.93L313.50,256.93L313.50,257.90L314.67,257.90L314.67,259.47L315.83,259.47L315.83,261.03L317.00,261.03L317.00,262.60L318.17,262.60L318.17,263.93L319.33,263.93L319.33,265.27L320.50,265.27L320.50,266.60L321.67,266.60L321.67,268.57L322.83,268.57L322.83,270.53L324.00,270.53L324.00,272.50L325.15,272.50L325.15,274.80L326.30,274.80L326.30,277.10L327.45,277.10L327.45,278.85L328.60,278.85L328.60,280.60L329.78,280.60L329.78,281.78L330.95,281.78L330.95,282.95L332.12,282.95L332.12,284.12L333.30,284.12L333.30,285.30L334.48,285.30L334.48,286.60L335.65,286.60L335.65,287.90L336.82,287.90L336.82,289.20L338.00,289.20L338.00,290.50L339.17,290.50L339.17,291.30L340.33,291.30L340.33,292.10L341.50,292.10L341.50,292.90L342.95,292.90L342.95,292.90L344.40,292.90L344.40,292.90L345.85,292.90L345.85,292.90L347.30,292.90L347.30,292.90L348.65,292.90L348.65,293.55L350.00,293.55L350.00,294.20L351.40,294.20L351.40,295.13L352.80,295.13L352.80,296.07L354.20,296.07L354.20,297.00L355.60,297.00L355.60,297.28L357.00,297.28L357.00,297.56L358.40,297.56L358.40,297.84L359.80,297.84L359.80,298.12L361.20,298.12L361.20,298.40L362.60,298.40L362.60,299.45L364.00,299.45L364.00,300.50L365.40,300.50L365.40,301.55L366.80,301.55L366.80,302.60L368.20,302.60L368.20,303.30L369.60,303.30L369.60,304.00L371.00,304.00L371.00,304.70L381.50,304.70L381.50,308.80L405.80,308.80L405.80,312.40L440.70,312.40L440.70,319.70L464.00,319.70L464.00,332.80L469.70,332.80" fill="none" stroke="#c8122f" stroke-width="1.45" stroke-linejoin="miter" stroke-linecap="butt"/>
<path d="M336.00,286.20V289.60M340.00,289.60V293.00M346.00,291.20V294.60M352.00,293.43V296.83M356.00,295.58V298.98M361.00,296.42V299.82M364.00,297.75V301.15M374.00,303.00V306.40M377.00,303.00V306.40M380.00,303.00V306.40M392.00,307.10V310.50M395.00,307.10V310.50M398.00,307.10V310.50M401.00,307.10V310.50M404.00,307.10V310.50M408.00,310.70V314.10M418.00,310.70V314.10M420.00,310.70V314.10M428.00,310.70V314.10M430.00,310.70V314.10M433.00,310.70V314.10M437.00,310.70V314.10M444.00,318.00V321.40M447.00,318.00V321.40M469.70,331.10V334.50" fill="none" stroke="#c8122f" stroke-width="1.15"/>
<path d="M306.00,251.30L307.40,251.30L307.40,253.75L308.80,253.75L308.80,256.20L309.97,256.20L309.97,257.73L311.13,257.73L311.13,259.27L312.30,259.27L312.30,260.80L313.47,260.80L313.47,262.73L314.63,262.73L314.63,264.67L315.80,264.67L315.80,266.60L316.97,266.60L316.97,267.97L318.13,267.97L318.13,269.33L319.30,269.33L319.30,270.70L320.48,270.70L320.48,271.73L321.65,271.73L321.65,272.75L322.82,272.75L322.82,273.77L324.00,273.77L324.00,274.80L325.15,274.80L325.15,275.70L326.30,275.70L326.30,276.60L327.75,276.60L327.75,277.03L329.20,277.03L329.20,277.45L330.65,277.45L330.65,277.88L332.10,277.88L332.10,278.30L333.28,278.30L333.28,278.76L334.46,278.76L334.46,279.22L335.64,279.22L335.64,279.68L336.82,279.68L336.82,280.14L338.00,280.14L338.00,280.60L339.45,280.60L339.45,281.20L340.90,281.20L340.90,281.80L342.35,281.80L342.35,282.40L343.80,282.40L343.80,283.00L345.25,283.00L345.25,283.57L346.70,283.57L346.70,284.15L348.15,284.15L348.15,284.73L349.60,284.73L349.60,285.30L350.86,285.30L350.86,285.47L352.11,285.47L352.11,285.64L353.37,285.64L353.37,285.81L354.63,285.81L354.63,285.99L355.89,285.99L355.89,286.16L357.14,286.16L357.14,286.33L358.40,286.33L358.40,286.50L359.80,286.50L359.80,286.73L361.20,286.73L361.20,286.97L362.60,286.97L362.60,287.20L364.00,287.20L364.00,287.43L365.40,287.43L365.40,287.67L366.80,287.67L366.80,287.90L368.20,287.90L368.20,288.42L369.60,288.42L369.60,288.95L371.00,288.95L371.00,289.48L372.40,289.48L372.40,290.00L373.80,290.00L373.80,290.00L375.20,290.00L375.20,290.00L376.60,290.00L376.60,290.00L378.00,290.00L378.00,290.00L379.40,290.00L379.40,290.00L380.80,290.00L380.80,290.00L382.20,290.00L382.20,290.12L383.60,290.12L383.60,290.23L385.00,290.23L385.00,290.35L386.40,290.35L386.40,290.47L387.80,290.47L387.80,290.58L389.20,290.58L389.20,290.70L392.00,290.70L392.00,292.10L396.20,292.10L396.20,292.80L397.60,292.80L397.60,297.70L409.20,297.70L409.20,300.80L411.20,300.80L411.20,304.60L425.60,304.60L425.60,310.40L448.30,310.40L448.30,319.80L473.50,319.80" fill="none" stroke="#1f5a92" stroke-width="1.45" stroke-linejoin="miter" stroke-linecap="butt"/>
<path d="M330.00,275.75V279.15M336.00,277.98V281.38M342.00,280.10V283.50M348.00,282.45V285.85M354.00,284.11V287.51M358.00,284.63V288.03M362.00,285.27V288.67M366.00,285.97V289.37M374.00,288.30V291.70M378.00,288.30V291.70M383.00,288.42V291.82M387.00,288.77V292.17M391.00,289.00V292.40M398.00,296.00V299.40M402.00,296.00V299.40M407.00,296.00V299.40M413.00,302.90V306.30M416.00,302.90V306.30M420.00,302.90V306.30M432.00,308.70V312.10M437.00,308.70V312.10M440.00,308.70V312.10M445.00,308.70V312.10M450.00,318.10V321.50M465.00,318.10V321.50M468.00,318.10V321.50M473.50,318.10V321.50" fill="none" stroke="#1f5a92" stroke-width="1.15"/>
<path d="M306.00,251.30L307.33,251.30L307.33,252.93L308.67,252.93L308.67,254.57L310.00,254.57L310.00,256.20L311.17,256.20L311.17,257.37L312.33,257.37L312.33,258.53L313.50,258.53L313.50,259.70L314.68,259.70L314.68,260.27L315.85,260.27L315.85,260.85L317.02,260.85L317.02,261.43L318.20,261.43L318.20,262.00L319.35,262.00L319.35,262.57L320.50,262.57L320.50,263.15L321.65,263.15L321.65,263.73L322.80,263.73L322.80,264.30L323.98,264.30L323.98,264.88L325.15,264.88L325.15,265.45L326.32,265.45L326.32,266.03L327.50,266.03L327.50,266.60L328.65,266.60L328.65,267.20L329.80,267.20L329.80,267.80L330.95,267.80L330.95,268.40L332.10,268.40L332.10,269.00L333.28,269.00L333.28,269.57L334.45,269.57L334.45,270.15L335.62,270.15L335.62,270.73L336.80,270.73L336.80,271.30L337.98,271.30L337.98,271.60L339.15,271.60L339.15,271.90L340.32,271.90L340.32,272.20L341.50,272.20L341.50,272.50L342.65,272.50L342.65,272.62L343.80,272.62L343.80,272.75L344.95,272.75L344.95,272.88L346.10,272.88L346.10,273.00L347.40,273.00L347.40,273.30L348.70,273.30L348.70,273.60L350.00,273.60L350.00,273.90L351.27,273.90L351.27,273.96L352.55,273.96L352.55,274.03L353.82,274.03L353.82,274.09L355.09,274.09L355.09,274.15L356.36,274.15L356.36,274.22L357.64,274.22L357.64,274.28L358.91,274.28L358.91,274.35L360.18,274.35L360.18,274.41L361.45,274.41L361.45,274.47L362.73,274.47L362.73,274.54L364.00,274.54L364.00,274.60L365.40,274.60L365.40,275.53L366.80,275.53L366.80,276.47L368.20,276.47L368.20,277.40L369.60,277.40L369.60,278.33L371.00,278.33L371.00,279.27L372.40,279.27L372.40,280.20L373.80,280.20L373.80,280.55L375.20,280.55L375.20,280.90L376.60,280.90L376.60,281.25L378.00,281.25L378.00,281.60L379.26,281.60L379.26,281.63L380.52,281.63L380.52,281.66L381.78,281.66L381.78,281.69L383.04,281.69L383.04,281.72L384.30,281.72L384.30,281.75L385.56,281.75L385.56,281.78L386.82,281.78L386.82,281.81L388.08,281.81L388.08,281.84L389.34,281.84L389.34,281.87L390.60,281.87L390.60,281.90L393.40,281.90L393.40,284.40L424.60,284.40L424.60,287.30L436.50,287.30L436.50,292.50L498.60,292.50" fill="none" stroke="#3eb54e" stroke-width="1.45" stroke-linejoin="miter" stroke-linecap="butt"/>
<path d="M322.00,262.03V265.43M326.00,263.75V267.15M330.00,266.10V269.50M334.00,267.88V271.27M338.00,269.90V273.30M342.00,270.80V274.20M346.00,271.18V274.57M349.00,271.90V275.30M352.10,272.26V275.66M355.60,272.45V275.85M358.40,272.58V275.98M359.80,272.65V276.05M364.00,272.84V276.24M370.00,276.63V280.03M375.00,278.85V282.25M378.00,279.55V282.95M380.80,279.96V283.36M383.60,280.02V283.42M386.40,280.08V283.48M389.20,280.14V283.54M394.80,282.70V286.10M397.60,282.70V286.10M399.00,282.70V286.10M403.00,282.70V286.10M407.00,282.70V286.10M411.00,282.70V286.10M416.00,282.70V286.10M420.00,282.70V286.10M427.00,285.60V289.00M430.00,285.60V289.00M440.00,290.80V294.20M455.00,290.80V294.20M462.00,290.80V294.20M464.00,290.80V294.20M466.00,290.80V294.20M472.00,290.80V294.20M478.00,290.80V294.20M482.00,290.80V294.20M490.00,290.80V294.20M498.60,290.80V294.20" fill="none" stroke="#3eb54e" stroke-width="1.15"/>
<path d="M306.00,251.30L317.00,251.30L317.00,252.40L335.60,252.40L335.60,255.00L340.30,255.00L340.30,257.30L342.60,257.30L342.60,258.70L356.30,258.70L356.30,260.60L382.20,260.60L382.20,264.10L385.00,264.10L385.00,269.00L455.60,269.00L455.60,298.90L468.60,298.90L468.60,328.60L487.10,328.60" fill="none" stroke="#6d3b87" stroke-width="1.45" stroke-linejoin="miter" stroke-linecap="butt"/>
<path d="M314.00,249.60V253.00M320.00,250.70V254.10M326.00,250.70V254.10M330.00,250.70V254.10M357.00,258.90V262.30M361.20,258.90V262.30M364.00,258.90V262.30M366.80,258.90V262.30M372.40,258.90V262.30M383.60,262.40V265.80M387.00,267.30V270.70M390.60,267.30V270.70M393.40,267.30V270.70M397.60,267.30V270.70M392.00,267.30V270.70M394.00,267.30V270.70M397.00,267.30V270.70M401.00,267.30V270.70M412.00,267.30V270.70M422.00,267.30V270.70M437.00,267.30V270.70M440.00,267.30V270.70M447.00,267.30V270.70M487.10,326.90V330.30" fill="none" stroke="#6d3b87" stroke-width="1.15"/>
<text x="313.00" y="321.00" font-size="7.05" text-anchor="start" font-weight="normal" font-style="normal" class="lt">DMS score</text>
<path d="M324.20,326.20H332.90" stroke="#6d3b87" stroke-width="1.3"/>
<text x="336.30" y="328.80" font-size="7.3" text-anchor="start" font-weight="normal" font-style="normal" class="lt">3 pt</text>
<path d="M324.20,333.30H332.90" stroke="#3eb54e" stroke-width="1.3"/>
<text x="336.30" y="335.90" font-size="7.3" text-anchor="start" font-weight="normal" font-style="normal" class="lt">2 pt</text>
<path d="M324.20,340.40H332.90" stroke="#1f5a92" stroke-width="1.3"/>
<text x="336.30" y="343.00" font-size="7.3" text-anchor="start" font-weight="normal" font-style="normal" class="lt">1 pt</text>
<path d="M324.20,347.10H332.90" stroke="#c8122f" stroke-width="1.3"/>
<text x="336.30" y="349.70" font-size="7.3" text-anchor="start" font-weight="normal" font-style="normal" class="lt">0 pt</text>
<text x="360.80" y="339.20" font-size="7.2"><tspan font-style="italic">P</tspan> = 3.5e-7</text>
<text x="362.60" y="242.40" font-size="8.9" text-anchor="start" font-weight="normal" font-style="normal" >Reddy et al. Cell 2017</text>
<text x="282.50" y="389.50" font-size="7.6" text-anchor="start" font-weight="normal" font-style="normal" >No. at risk</text>
<text x="283.00" y="397.00" font-size="7.6" text-anchor="start" font-weight="bold" font-style="normal" >3 pt</text>
<text x="306.40" y="397.00" font-size="7.6" text-anchor="middle" font-weight="normal" font-style="normal" >69</text>
<text x="321.68" y="397.00" font-size="7.6" text-anchor="middle" font-weight="normal" font-style="normal" >66</text>
<text x="336.96" y="397.00" font-size="7.6" text-anchor="middle" font-weight="normal" font-style="normal" >58</text>
<text x="352.24" y="397.00" font-size="7.6" text-anchor="middle" font-weight="normal" font-style="normal" >49</text>
<text x="367.52" y="397.00" font-size="7.6" text-anchor="middle" font-weight="normal" font-style="normal" >35</text>
<text x="382.80" y="397.00" font-size="7.6" text-anchor="middle" font-weight="normal" font-style="normal" >24</text>
<text x="398.08" y="397.00" font-size="7.6" text-anchor="middle" font-weight="normal" font-style="normal" >11</text>
<text x="413.36" y="397.00" font-size="7.6" text-anchor="middle" font-weight="normal" font-style="normal" >7</text>
<text x="428.64" y="397.00" font-size="7.6" text-anchor="middle" font-weight="normal" font-style="normal" >6</text>
<text x="443.92" y="397.00" font-size="7.6" text-anchor="middle" font-weight="normal" font-style="normal" >4</text>
<text x="459.20" y="397.00" font-size="7.6" text-anchor="middle" font-weight="normal" font-style="normal" >2</text>
<text x="474.48" y="397.00" font-size="7.6" text-anchor="middle" font-weight="normal" font-style="normal" >1</text>
<text x="489.76" y="397.00" font-size="7.6" text-anchor="middle" font-weight="normal" font-style="normal" >0</text>
<text x="505.04" y="397.00" font-size="7.6" text-anchor="middle" font-weight="normal" font-style="normal" >0</text>
<text x="283.00" y="404.60" font-size="7.6" text-anchor="start" font-weight="bold" font-style="normal" >2 pt</text>
<text x="306.40" y="404.60" font-size="7.6" text-anchor="middle" font-weight="normal" font-style="normal" >214</text>
<text x="321.68" y="404.60" font-size="7.6" text-anchor="middle" font-weight="normal" font-style="normal" >178</text>
<text x="336.96" y="404.60" font-size="7.6" text-anchor="middle" font-weight="normal" font-style="normal" >144</text>
<text x="352.24" y="404.60" font-size="7.6" text-anchor="middle" font-weight="normal" font-style="normal" >106</text>
<text x="367.52" y="404.60" font-size="7.6" text-anchor="middle" font-weight="normal" font-style="normal" >78</text>
<text x="382.80" y="404.60" font-size="7.6" text-anchor="middle" font-weight="normal" font-style="normal" >54</text>
<text x="398.08" y="404.60" font-size="7.6" text-anchor="middle" font-weight="normal" font-style="normal" >33</text>
<text x="413.36" y="404.60" font-size="7.6" text-anchor="middle" font-weight="normal" font-style="normal" >25</text>
<text x="428.64" y="404.60" font-size="7.6" text-anchor="middle" font-weight="normal" font-style="normal" >17</text>
<text x="443.92" y="404.60" font-size="7.6" text-anchor="middle" font-weight="normal" font-style="normal" >12</text>
<text x="459.20" y="404.60" font-size="7.6" text-anchor="middle" font-weight="normal" font-style="normal" >11</text>
<text x="474.48" y="404.60" font-size="7.6" text-anchor="middle" font-weight="normal" font-style="normal" >4</text>
<text x="489.76" y="404.60" font-size="7.6" text-anchor="middle" font-weight="normal" font-style="normal" >1</text>
<text x="505.04" y="404.60" font-size="7.6" text-anchor="middle" font-weight="normal" font-style="normal" >0</text>
<text x="283.00" y="412.10" font-size="7.6" text-anchor="start" font-weight="bold" font-style="normal" >1 pt</text>
<text x="306.40" y="412.10" font-size="7.6" text-anchor="middle" font-weight="normal" font-style="normal" >182</text>
<text x="321.68" y="412.10" font-size="7.6" text-anchor="middle" font-weight="normal" font-style="normal" >139</text>
<text x="336.96" y="412.10" font-size="7.6" text-anchor="middle" font-weight="normal" font-style="normal" >96</text>
<text x="352.24" y="412.10" font-size="7.6" text-anchor="middle" font-weight="normal" font-style="normal" >75</text>
<text x="367.52" y="412.10" font-size="7.6" text-anchor="middle" font-weight="normal" font-style="normal" >55</text>
<text x="382.80" y="412.10" font-size="7.6" text-anchor="middle" font-weight="normal" font-style="normal" >40</text>
<text x="398.08" y="412.10" font-size="7.6" text-anchor="middle" font-weight="normal" font-style="normal" >22</text>
<text x="413.36" y="412.10" font-size="7.6" text-anchor="middle" font-weight="normal" font-style="normal" >14</text>
<text x="428.64" y="412.10" font-size="7.6" text-anchor="middle" font-weight="normal" font-style="normal" >8</text>
<text x="443.92" y="412.10" font-size="7.6" text-anchor="middle" font-weight="normal" font-style="normal" >6</text>
<text x="459.20" y="412.10" font-size="7.6" text-anchor="middle" font-weight="normal" font-style="normal" >3</text>
<text x="474.48" y="412.10" font-size="7.6" text-anchor="middle" font-weight="normal" font-style="normal" >0</text>
<text x="489.76" y="412.10" font-size="7.6" text-anchor="middle" font-weight="normal" font-style="normal" >0</text>
<text x="505.04" y="412.10" font-size="7.6" text-anchor="middle" font-weight="normal" font-style="normal" >0</text>
<text x="283.00" y="420.00" font-size="7.6" text-anchor="start" font-weight="bold" font-style="normal" >0 pt</text>
<text x="306.40" y="420.00" font-size="7.6" text-anchor="middle" font-weight="normal" font-style="normal" >139</text>
<text x="321.68" y="420.00" font-size="7.6" text-anchor="middle" font-weight="normal" font-style="normal" >108</text>
<text x="336.96" y="420.00" font-size="7.6" text-anchor="middle" font-weight="normal" font-style="normal" >71</text>
<text x="352.24" y="420.00" font-size="7.6" text-anchor="middle" font-weight="normal" font-style="normal" >48</text>
<text x="367.52" y="420.00" font-size="7.6" text-anchor="middle" font-weight="normal" font-style="normal" >32</text>
<text x="382.80" y="420.00" font-size="7.6" text-anchor="middle" font-weight="normal" font-style="normal" >23</text>
<text x="398.08" y="420.00" font-size="7.6" text-anchor="middle" font-weight="normal" font-style="normal" >18</text>
<text x="413.36" y="420.00" font-size="7.6" text-anchor="middle" font-weight="normal" font-style="normal" >14</text>
<text x="428.64" y="420.00" font-size="7.6" text-anchor="middle" font-weight="normal" font-style="normal" >11</text>
<text x="443.92" y="420.00" font-size="7.6" text-anchor="middle" font-weight="normal" font-style="normal" >5</text>
<text x="459.20" y="420.00" font-size="7.6" text-anchor="middle" font-weight="normal" font-style="normal" >3</text>
<text x="474.48" y="420.00" font-size="7.6" text-anchor="middle" font-weight="normal" font-style="normal" >0</text>
<text x="489.76" y="420.00" font-size="7.6" text-anchor="middle" font-weight="normal" font-style="normal" >0</text>
<text x="505.04" y="420.00" font-size="7.6" text-anchor="middle" font-weight="normal" font-style="normal" >0</text>
<rect x="0" y="0" width="520" height="1.1" fill="#000"/><rect x="0" y="0" width="1.3" height="429" fill="#000"/><rect x="518.8" y="0" width="1.2" height="429" fill="#000"/><rect x="0" y="427.7" width="520" height="1.3" fill="#000"/>
</svg></body></html>
